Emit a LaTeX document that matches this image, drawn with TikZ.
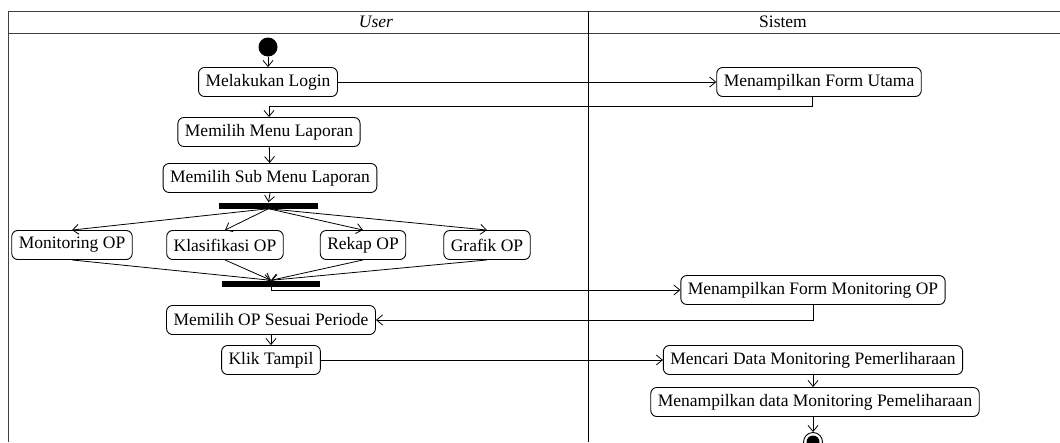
\documentclass[tikz,border=0pt]{standalone}
\usepackage{fontspec}
\setmainfont{Liberation Serif}
\usetikzlibrary{arrows.meta}
\begin{document}
\begin{tikzpicture}[x=1pt,y=-1pt,
  every node/.style={font=\fontsize{17.5}{20}\selectfont},
  act/.style={draw, rounded corners=6pt, inner xsep=7pt, inner ysep=0pt,
    minimum height=29pt, line width=0.9pt},
  bar/.style={fill=black, draw=none, inner sep=0pt, minimum height=6pt},
  arr/.style={line width=0.8pt, -{Straight Barb[length=6pt,width=10pt]}},
  flow/.style={line width=0.8pt},
  lane/.style={line width=1pt, draw=black!75}]
\useasboundingbox (0,0) rectangle (1060,442);
\clip (0,0) rectangle (1060,442);
\fill[white] (0,0) rectangle (1060,442);

% swimlane frame
\draw[lane] (1060,11) -- (8,11) -- (8,442);
\draw[lane] (8,33) -- (1060,33);
\draw[line width=1pt] (588,11) -- (588,442);
\node (hUser) at (376,22) {\itshape User};
\node (hSys) at (783,22) {Sistem};

% start and end points
\node[circle, fill=black, inner sep=0pt, minimum size=19pt] (start) at (268,47) {};
\node[circle, draw, line width=0.9pt, fill=white, inner sep=0pt, minimum size=19pt] (stop) at (813,442) {};
\node[circle, fill=black, inner sep=0pt, minimum size=13pt] (stopdot) at (stop) {};

% user actions
\node[act] (login) at (268,82) {Melakukan Login};
\node[act] (menu) at (269,132) {Memilih Menu Laporan};
\node[act] (sub) at (270,178) {Memilih Sub Menu Laporan};
\node[bar, minimum width=99pt] (fork) at (268.5,205.5) {};
\node[act] (mon) at (72,245) {Monitoring OP};
\node[act] (kla) at (225,245) {Klasifikasi OP};
\node[act] (rek) at (363,245) {Rekap OP};
\node[act] (gra) at (487,245) {Grafik OP};
\node[bar, minimum width=98pt] (join) at (271,283.5) {};
\node[act] (mosp) at (271,320) {Memilih OP Sesuai Periode};
\node[act] (klik) at (271,360) {Klik Tampil};

% system actions
\node[act] (utama) at (819,82) {Menampilkan Form Utama};
\node[act] (mfmo) at (813,290) {Menampilkan Form Monitoring OP};
\node[act] (cari) at (813,360) {Mencari Data Monitoring Pemerliharaan};
\node[act] (tampil) at (815,402) {Menampilkan data Monitoring Pemeliharaan};

% control flow
\draw[arr] (start) -- (login);
\draw[arr] (login) -- (utama);
\draw[arr] ([xshift=-7pt]utama.south) -- ++(0,9.5) -| (menu.north);
\draw[arr] (menu) -- (sub);
\draw[arr] (sub.south) -- (fork.north);
\draw[arr] (fork.south) -- (mon.north);
\draw[arr] (fork.south) -- (kla.north);
\draw[arr] (fork.south) -- (rek.north);
\draw[arr] (fork.south) -- (gra.north);
\draw[arr] (mon.south) -- (join.north);
\draw[arr] (kla.south) -- (join.north);
\draw[arr] (rek.south) -- (join.north);
\draw[arr] (gra.south) -- (join.north);
\draw[arr] (join.south) |- (mfmo.west);
\draw[arr] (mfmo.south) |- (mosp.east);
\draw[arr] (mosp.south) -- (klik.north);
\draw[arr] (klik) -- (cari);
\draw[arr] ([xshift=0pt]cari.south) -- ([xshift=-2pt]tampil.north);
\draw[arr] ([xshift=-2pt]tampil.south) -- (stop.north);
\end{tikzpicture}
\end{document}
